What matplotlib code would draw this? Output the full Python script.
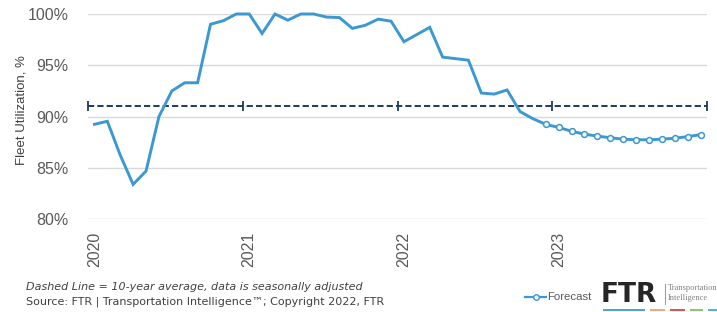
import numpy as np
import matplotlib
matplotlib.use("Agg")
import matplotlib.pyplot as plt
from matplotlib.patches import Rectangle

# monthly fleet utilization, Jan 2020 - Dec 2023 (last 13 months are forecast)
utilization = [
    89.25, 89.55, 86.25, 83.4, 84.7, 90.0, 92.5, 93.3, 93.3, 99.0, 99.35, 100.0,
    100.0, 98.1, 100.0, 99.4, 100.0, 100.0, 99.7, 99.65, 98.6, 98.9, 99.5, 99.3,
    97.3, 98.0, 98.7, 95.8, 95.65, 95.5, 92.3, 92.2, 92.6, 90.5, 89.8, 89.25,
    88.95, 88.57, 88.3, 88.1, 87.95, 87.8, 87.75, 87.75, 87.8, 87.9, 88.05, 88.25,
]
forecast_start = 35
ten_year_avg = 91.0
years = ["2020", "2021", "2022", "2023"]
y_ticks = [80, 85, 90, 95, 100]

BLUE = "#3C98D0"
NAVY = "#1F3864"
GRID = "#D9D9D9"
TICK = "#595959"

plt.rcParams['font.family'] = ['Liberation Sans', 'DejaVu Sans']

fig = plt.figure(figsize=(7.17, 3.12), dpi=100)
ax = fig.add_axes([88 / 717, 1 - 219.3 / 312, 619 / 717, 205.3 / 312])

n = len(utilization)
x = np.arange(n) + 0.5

# gridlines
for v in y_ticks:
    ax.axhline(v, color=GRID, lw=1.0, zorder=0)

# 10-year average
ax.plot([0, n], [ten_year_avg, ten_year_avg], color=NAVY, lw=1.4,
        dashes=(3.2, 1.6), zorder=2, clip_on=False)
ax.plot(np.arange(0, n + 1, 12), [ten_year_avg] * 5, ls="none", marker="|",
        ms=7, mew=1.3, color=NAVY, zorder=2, clip_on=False)

# actuals + forecast
ax.plot(x, utilization, color=BLUE, lw=2.1, zorder=3, clip_on=False,
        solid_joinstyle="miter")
ax.plot(x[forecast_start:], utilization[forecast_start:], ls="none", marker="o",
        ms=4.2, mfc="white", mec=BLUE, mew=1.1, zorder=4, clip_on=False)

ax.set_xlim(0, n)
ax.set_ylim(80, 100)
ax.set_yticks(y_ticks)
ax.set_yticklabels([f"{v}%" for v in y_ticks])
ax.set_xticks([i * 12 + 0.5 for i in range(len(years))])
ax.set_xticklabels(years, rotation=90)
ax.tick_params(axis="both", length=0, colors=TICK, labelsize=11.5)
ax.tick_params(axis="x", pad=9)
ax.tick_params(axis="y", pad=14)
for s in ax.spines.values():
    s.set_visible(False)

fig.text(22 / 717, 1 - 110 / 312, "Fleet Utilization, %", rotation=90,
         ha="center", va="center", fontsize=9.5, color="#404040")

# footnotes
fig.text(26 / 717, 1 - 287 / 312,
         "Dashed Line = 10-year average, data is seasonally adjusted",
         fontsize=8.0, style="italic", color="#404040", va="center",
         family="DejaVu Sans")
fig.text(26 / 717, 1 - 302 / 312,
         "Source: FTR | Transportation Intelligence\u2122; Copyright 2022, FTR",
         fontsize=8.0, color="#404040", va="center", family="DejaVu Sans")

# legend
fig.lines.append(plt.Line2D([525 / 717, 546 / 717], [1 - 297 / 312] * 2,
                            transform=fig.transFigure, color=BLUE, lw=1.6))
fig.lines.append(plt.Line2D([535.5 / 717], [1 - 297 / 312], transform=fig.transFigure,
                            marker="o", ms=4, mfc="white", mec=BLUE, mew=1))
fig.text(547 / 717, 1 - 297 / 312, "Forecast", fontsize=8.2, color=TICK,
         va="center", ha="left")

# FTR logo
fig.text(601 / 717, 1 - 295 / 312, "FTR", fontsize=19, fontweight="heavy",
         color="#262626", va="center", ha="left", family="DejaVu Sans")
fig.lines.append(plt.Line2D([665 / 717, 665 / 717], [1 - 284 / 312, 1 - 304 / 312],
                            transform=fig.transFigure, color="#A0A0A0", lw=0.8))
fig.text(668 / 717, 1 - 287.5 / 312, "Transportation", fontsize=6, color="#808080",
         va="center", ha="left", family="Liberation Serif")
fig.text(668 / 717, 1 - 297.5 / 312, "Intelligence", fontsize=6, color="#808080",
         va="center", ha="left", family="Liberation Serif")
for x0, x1, c in [(603, 645, "#4BA3D6"), (650, 665, "#F2A77E"), (670, 685, "#E0525A"),
                  (690, 703, "#8CC66D"), (708, 717, "#4BB5E0")]:
    fig.patches.append(Rectangle((x0 / 717, 1 - 311 / 312), (x1 - x0) / 717, 1.6 / 312,
                                 transform=fig.transFigure, color=c, lw=0))

fig.savefig("out.png", dpi=100)
